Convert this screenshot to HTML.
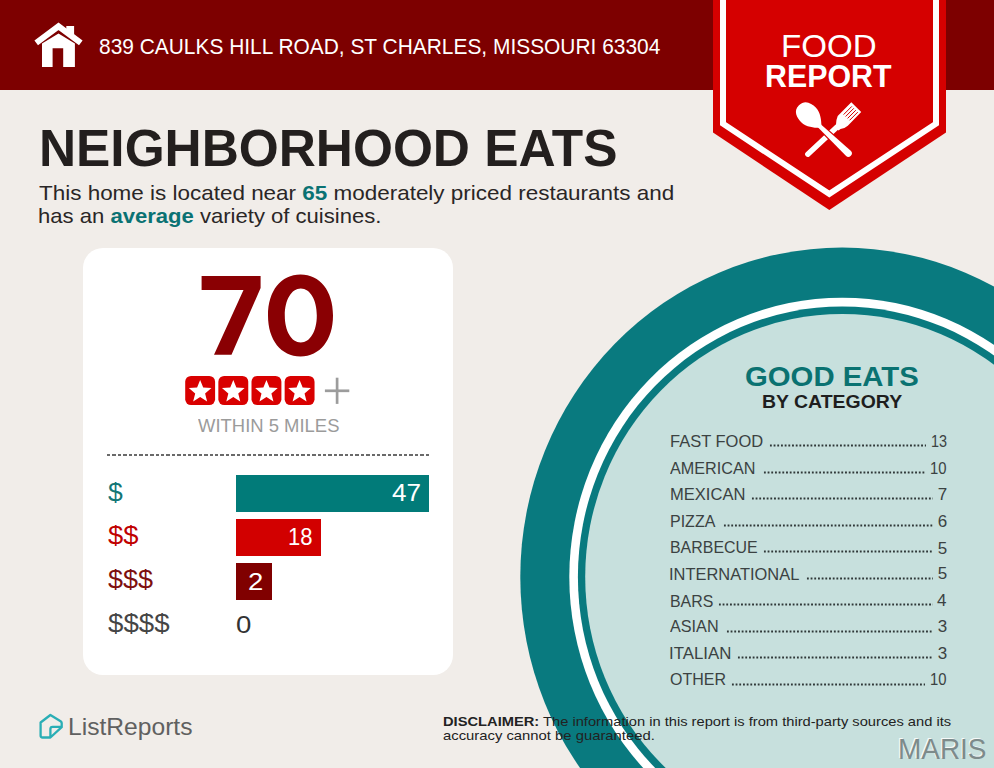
<!DOCTYPE html>
<html><head><meta charset="utf-8">
<style>
*{margin:0;padding:0;box-sizing:border-box}
html,body{width:994px;height:768px;overflow:hidden;background:#f1ede9;font-family:"Liberation Sans",sans-serif}
.t{position:absolute;white-space:nowrap;line-height:1;transform-origin:0 0}
#hdr{position:absolute;left:0;top:0;width:994px;height:90px;background:#7d0000}
.card{position:absolute;left:83px;top:248px;width:370px;height:427px;background:#fff;border-radius:20px}
.bar{position:absolute;left:236px;height:37px}
.lv{position:absolute;color:#fff;font-size:22px;line-height:1}
.row{position:absolute;left:670px;width:277px;height:17px;color:#3b4242;font-size:16.5px;line-height:1;display:flex}
.lab{white-space:nowrap}
.dots{position:absolute;height:3px;background:radial-gradient(circle,#2f3838 0.9px,transparent 1.3px) 0 0/3.7px 3px repeat-x}
.num{white-space:nowrap}
</style></head><body>
<div id="hdr"></div>

<!-- house icon -->
<svg style="position:absolute;left:0;top:0" width="100" height="90" viewBox="0 0 100 90">
  <polygon fill="#fff" points="66.3,26 74.1,26 74.1,36 66.3,33"/>
  <polyline fill="none" stroke="#fff" stroke-width="6" stroke-linejoin="miter" points="36.2,42.9 58.5,26.3 80.8,42.9"/>
  <path fill="#fff" d="M42,43.5 L58.5,33.4 L74.9,43.5 L74.9,67 L63.2,67 L63.2,48.2 L52.6,48.2 L52.6,67 L42,67 Z"/>
</svg>


<!-- badge -->
<svg style="position:absolute;left:0;top:0" width="994" height="220" viewBox="0 0 994 220">
  <polygon fill="#d50000" points="713,0 946,0 946,132.6 829.3,210 713,132.6"/>
  <polyline fill="none" stroke="#fff" stroke-width="6" points="723,-2 723,123.7 829.3,194 936,123.7 936,-2"/>
</svg>

<!-- fork & spoon -->
<svg style="position:absolute;left:790px;top:95px" width="80" height="70" viewBox="0 0 80 70">
  <g fill="#fff">
    <path d="M61.3,7.2 L71.2,17.1 L57.8,30.8 Q55,33.5 50.5,34 L48.5,35.5 L44.5,31.5 L46,29.5 Q46,25 47.7,21 Z"/>
    <line x1="47" y1="32" x2="17.8" y2="59.2" stroke="#fff" stroke-width="5.4" stroke-linecap="round"/>
  </g>
  <g stroke="#d50000" stroke-width="1" stroke-linecap="butt">
    <line x1="61.8" y1="11.4" x2="53.6" y2="19.6"/>
    <line x1="63.8" y1="13.3" x2="55.6" y2="21.5"/>
    <line x1="65.8" y1="15.2" x2="57.6" y2="23.4"/>
    <line x1="67.8" y1="17.1" x2="59.6" y2="25.3"/>
  </g>
  <path d="M27.12,31.45 L55.89,60.84 A3.5,3.5 0 0 0 60.71,55.76 L29.88,28.55 Z" fill="#fff" stroke="#d50000" stroke-width="2.4"/>
  <path d="M27.12,31.45 L55.89,60.84 A3.5,3.5 0 0 0 60.71,55.76 L29.88,28.55 Z" fill="#fff"/>
  <path transform="translate(19.2,20.6) rotate(45)" fill="#fff" d="M-14.5,0 C-14.5,-8.5 -7,-10.3 -1,-10.3 C6,-10.3 12,-5 15.5,-1.8 L15.5,1.8 C12,5 6,10.3 -1,10.3 C-7,10.3 -14.5,8.5 -14.5,0 Z"/>
</svg>


<!-- card -->
<div class="card"></div>
<svg style="position:absolute;left:0;top:0" width="994" height="768" viewBox="0 0 994 768">
  <path fill="#8a0003" d="M201.6,276 L260.6,276 L260.6,288 L231.5,354.8 L214,354.8 L243.5,289.9 L201.6,289.9 Z"/>
  <path fill="#8a0003" fill-rule="evenodd" d="M300.5,274.6 C320.0,274.6 333.0,290.96 333.0,315.5 C333.0,340.04 320.0,356.4 300.5,356.4 C281.0,356.4 268.0,340.04 268.0,315.5 C268.0,290.96 281.0,274.6 300.5,274.6 Z M300.8,288.4 C291.52000000000004,288.4 284.8,299.73999999999995 284.8,315.4 C284.8,331.06 291.52000000000004,342.4 300.8,342.4 C310.08,342.4 316.8,331.06 316.8,315.4 C316.8,299.73999999999995 310.08,288.4 300.8,288.4 Z"/>
</svg>

<svg style="position:absolute;left:0;top:0" width="994" height="768" viewBox="0 0 994 768">
  <g fill="#d90000"><rect x="185.20" y="375.9" width="29.9" height="29.2" rx="5.8"/><rect x="218.35" y="375.9" width="29.9" height="29.2" rx="5.8"/><rect x="251.50" y="375.9" width="29.9" height="29.2" rx="5.8"/><rect x="284.65" y="375.9" width="29.9" height="29.2" rx="5.8"/></g>
  <g fill="#fff"><path d="M200.15,379.90 L203.21,387.59 L211.47,388.12 L205.10,393.41 L207.14,401.43 L200.15,397.00 L193.16,401.43 L195.20,393.41 L188.83,388.12 L197.09,387.59Z"/><path d="M233.30,379.90 L236.36,387.59 L244.62,388.12 L238.25,393.41 L240.29,401.43 L233.30,397.00 L226.31,401.43 L228.35,393.41 L221.98,388.12 L230.24,387.59Z"/><path d="M266.45,379.90 L269.51,387.59 L277.77,388.12 L271.40,393.41 L273.44,401.43 L266.45,397.00 L259.46,401.43 L261.50,393.41 L255.13,388.12 L263.39,387.59Z"/><path d="M299.60,379.90 L302.66,387.59 L310.92,388.12 L304.55,393.41 L306.59,401.43 L299.60,397.00 L292.61,401.43 L294.65,393.41 L288.28,388.12 L296.54,387.59Z"/></g>
  <g stroke="#9c9c9c" stroke-width="2.7">
    <line x1="324.9" y1="390.8" x2="349.3" y2="390.8"/>
    <line x1="337.1" y1="377.7" x2="337.1" y2="403.9"/>
  </g>
</svg>

<div style="position:absolute;left:107px;top:454.3px;width:322px;height:2px;background:repeating-linear-gradient(90deg,#6a6a6a 0,#6a6a6a 3.4px,transparent 3.4px,transparent 5.4px)"></div>

<div class="bar" style="top:475px;width:193px;background:#017b79"></div>
<div class="bar" style="top:519px;width:85px;background:#d20000"></div>
<div class="bar" style="top:563px;width:36px;background:#800000"></div>



<!-- circle -->
<svg style="position:absolute;left:0;top:0" width="994" height="768" viewBox="0 0 994 768">
  <ellipse cx="842.2" cy="576.9" rx="321.9" ry="329.3" fill="#097a7f"/>
  <ellipse cx="842.2" cy="576.9" rx="272.9" ry="279.2" fill="#fff"/>
  <ellipse cx="842.2" cy="576.9" rx="264.3" ry="270.4" fill="#097a7f"/>
  <ellipse cx="842.2" cy="576.9" rx="257" ry="262.9" fill="#c7e0dd"/>
</svg>


<div id="rows">
<div class="dots" style="left:769.0px;top:444.1px;width:157.1px"></div>
<div class="dots" style="left:762.6px;top:470.6px;width:162.4px"></div>
<div class="dots" style="left:751.2px;top:497.1px;width:182.0px"></div>
<div class="dots" style="left:722.5px;top:523.7px;width:210.7px"></div>
<div class="dots" style="left:762.6px;top:550.2px;width:170.6px"></div>
<div class="dots" style="left:805.8px;top:576.7px;width:127.4px"></div>
<div class="dots" style="left:718.3px;top:603.2px;width:214.9px"></div>
<div class="dots" style="left:725.8px;top:629.7px;width:207.4px"></div>
<div class="dots" style="left:737.0px;top:656.3px;width:196.2px"></div>
<div class="dots" style="left:731.0px;top:682.8px;width:194.0px"></div>
</div>

<!-- footer -->
<svg style="position:absolute;left:30px;top:705px" width="40" height="40" viewBox="0 0 40 40">
  <path d="M20.4,10 L10.6,17.5 L10.6,30.5 Q10.6,32.5 12.6,32.5 L20.4,32.5 L31.7,22.2 L31.7,18 Q31.7,17 30.6,16.2 Z M20.4,32.5 L20.4,24 Q20.4,21.8 22.6,21.8 L31.7,21.8" fill="none" stroke="#2aaeb5" stroke-width="2.3" stroke-linejoin="round"/>
</svg>


<div class="t" id="addr" style="left:99.24px;top:36.00px;font-size:21.7px;font-weight:normal;color:#fff;transform:scaleX(0.9642);">839 CAULKS HILL ROAD, ST CHARLES, MISSOURI 63304</div>
<div class="t" id="food" style="left:780.69px;top:30.20px;font-size:32px;font-weight:normal;color:#fff;transform:scaleX(1.0342);">FOOD</div>
<div class="t" id="report" style="left:765.30px;top:60.00px;font-size:32px;font-weight:bold;color:#fff;transform:scaleX(0.9481);">REPORT</div>
<div class="t" id="title" style="left:39.04px;top:121.60px;font-size:52px;font-weight:bold;color:#231f1e;transform:scaleX(0.9879);">NEIGHBORHOOD EATS</div>
<div class="t" id="sub1" style="left:39.40px;top:181.80px;font-size:21px;font-weight:normal;color:#2a2626;transform:scaleX(1.0691);">This home is located near <b style="color:#0a7273">65</b> moderately priced restaurants and</div>
<div class="t" id="sub2" style="left:38.35px;top:204.60px;font-size:21px;font-weight:normal;color:#2a2626;transform:scaleX(1.0506);">has an <b style="color:#0a7273">average</b> variety of cuisines.</div>
<div class="t" id="within" style="left:198.40px;top:417.20px;font-size:18.5px;font-weight:normal;color:#9b9b9b;transform:scaleX(0.9972);">WITHIN 5 MILES</div>
<div class="t" id="d1" style="left:107.63px;top:478.60px;font-size:26px;font-weight:normal;color:#127676;transform:scaleX(1.0203);">$</div>
<div class="t" id="d2" style="left:107.57px;top:521.80px;font-size:26px;font-weight:normal;color:#c00000;transform:scaleX(1.0538);">$$</div>
<div class="t" id="d3" style="left:107.56px;top:566.20px;font-size:26px;font-weight:normal;color:#7e0f0f;transform:scaleX(1.0371);">$$$</div>
<div class="t" id="d4" style="left:107.55px;top:610.00px;font-size:26px;font-weight:normal;color:#454545;transform:scaleX(1.0647);">$$$$</div>
<div class="t" id="n47" style="left:391.94px;top:480.80px;font-size:24.5px;font-weight:normal;color:#fff;transform:scaleX(1.0645);">47</div>
<div class="t" id="n18" style="left:287.60px;top:525.00px;font-size:24.5px;font-weight:normal;color:#fff;transform:scaleX(0.9001);">18</div>
<div class="t" id="n2" style="left:248.05px;top:570.40px;font-size:24px;font-weight:normal;color:#fff;transform:scaleX(1.1459);">2</div>
<div class="t" id="n0" style="left:236.25px;top:613.00px;font-size:24px;font-weight:normal;color:#333;transform:scaleX(1.1503);">0</div>
<div class="t" id="good" style="left:744.96px;top:361.80px;font-size:28.3px;font-weight:bold;color:#0a7271;transform:scaleX(1.0361);">GOOD EATS</div>
<div class="t" id="bycat" style="left:761.78px;top:391.80px;font-size:19px;font-weight:bold;color:#1e1e1e;transform:scaleX(1.0237);">BY CATEGORY</div>
<div class="t" id="lr" style="left:67.72px;top:716.40px;font-size:23.7px;font-weight:normal;color:#606060;transform:scaleX(1.0393);">ListReports</div>
<div class="t" id="disc1" style="left:443.10px;top:715.00px;font-size:13.4px;font-weight:normal;color:#222;transform:scaleX(1.0965);"><b>DISCLAIMER:</b> The information in this report is from third-party sources and its</div>
<div class="t" id="disc2" style="left:443.29px;top:729.30px;font-size:13.4px;font-weight:normal;color:#222;transform:scaleX(1.1069);">accuracy cannot be guaranteed.</div>
<div class="t" id="maris" style="left:897.91px;top:734.80px;font-size:29px;font-weight:normal;color:#7d8b8b;transform:scaleX(0.9632);text-shadow:-1.2px -0.6px 0 rgba(255,255,255,0.85)">MARIS</div>
<div class="t" id="lab0" style="left:669.63px;top:433.00px;font-size:17px;font-weight:normal;color:#3b4242;transform:scaleX(0.9703);">FAST FOOD</div>
<div class="t" id="num0" style="left:930.63px;top:433.00px;font-size:17px;font-weight:normal;color:#3b4242;transform:scaleX(0.8473);">13</div>
<div class="t" id="lab1" style="left:670.00px;top:459.60px;font-size:17px;font-weight:normal;color:#3b4242;transform:scaleX(0.9523);">AMERICAN</div>
<div class="t" id="num1" style="left:930.13px;top:459.60px;font-size:17px;font-weight:normal;color:#3b4242;transform:scaleX(0.8722);">10</div>
<div class="t" id="lab2" style="left:669.63px;top:486.20px;font-size:17px;font-weight:normal;color:#3b4242;transform:scaleX(0.9733);">MEXICAN</div>
<div class="t" id="num2" style="left:937.77px;top:486.28px;font-size:17px;font-weight:normal;color:#3b4242;transform:scaleX(1.0000);">7</div>
<div class="t" id="lab3" style="left:669.66px;top:512.80px;font-size:17px;font-weight:normal;color:#3b4242;transform:scaleX(0.9406);">PIZZA</div>
<div class="t" id="num3" style="left:937.75px;top:512.92px;font-size:17px;font-weight:normal;color:#3b4242;transform:scaleX(1.0000);">6</div>
<div class="t" id="lab4" style="left:669.66px;top:539.40px;font-size:17px;font-weight:normal;color:#3b4242;transform:scaleX(0.9370);">BARBECUE</div>
<div class="t" id="num4" style="left:937.75px;top:539.56px;font-size:17px;font-weight:normal;color:#3b4242;transform:scaleX(1.0000);">5</div>
<div class="t" id="lab5" style="left:669.20px;top:566.00px;font-size:17px;font-weight:normal;color:#3b4242;transform:scaleX(0.9667);">INTERNATIONAL</div>
<div class="t" id="num5" style="left:937.75px;top:565.20px;font-size:17px;font-weight:normal;color:#3b4242;transform:scaleX(1.0000);">5</div>
<div class="t" id="lab6" style="left:669.66px;top:592.60px;font-size:17px;font-weight:normal;color:#3b4242;transform:scaleX(0.9344);">BARS</div>
<div class="t" id="num6" style="left:936.91px;top:591.84px;font-size:17px;font-weight:normal;color:#3b4242;transform:scaleX(1.0000);">4</div>
<div class="t" id="lab7" style="left:670.00px;top:618.20px;font-size:17px;font-weight:normal;color:#3b4242;transform:scaleX(0.9522);">ASIAN</div>
<div class="t" id="num7" style="left:937.75px;top:618.48px;font-size:17px;font-weight:normal;color:#3b4242;transform:scaleX(1.0000);">3</div>
<div class="t" id="lab8" style="left:669.20px;top:644.80px;font-size:17px;font-weight:normal;color:#3b4242;transform:scaleX(0.9900);">ITALIAN</div>
<div class="t" id="num8" style="left:937.75px;top:645.12px;font-size:17px;font-weight:normal;color:#3b4242;transform:scaleX(1.0000);">3</div>
<div class="t" id="lab9" style="left:669.66px;top:671.40px;font-size:17px;font-weight:normal;color:#3b4242;transform:scaleX(0.9405);">OTHER</div>
<div class="t" id="num9" style="left:930.13px;top:671.40px;font-size:17px;font-weight:normal;color:#3b4242;transform:scaleX(0.8722);">10</div>
</body></html>
